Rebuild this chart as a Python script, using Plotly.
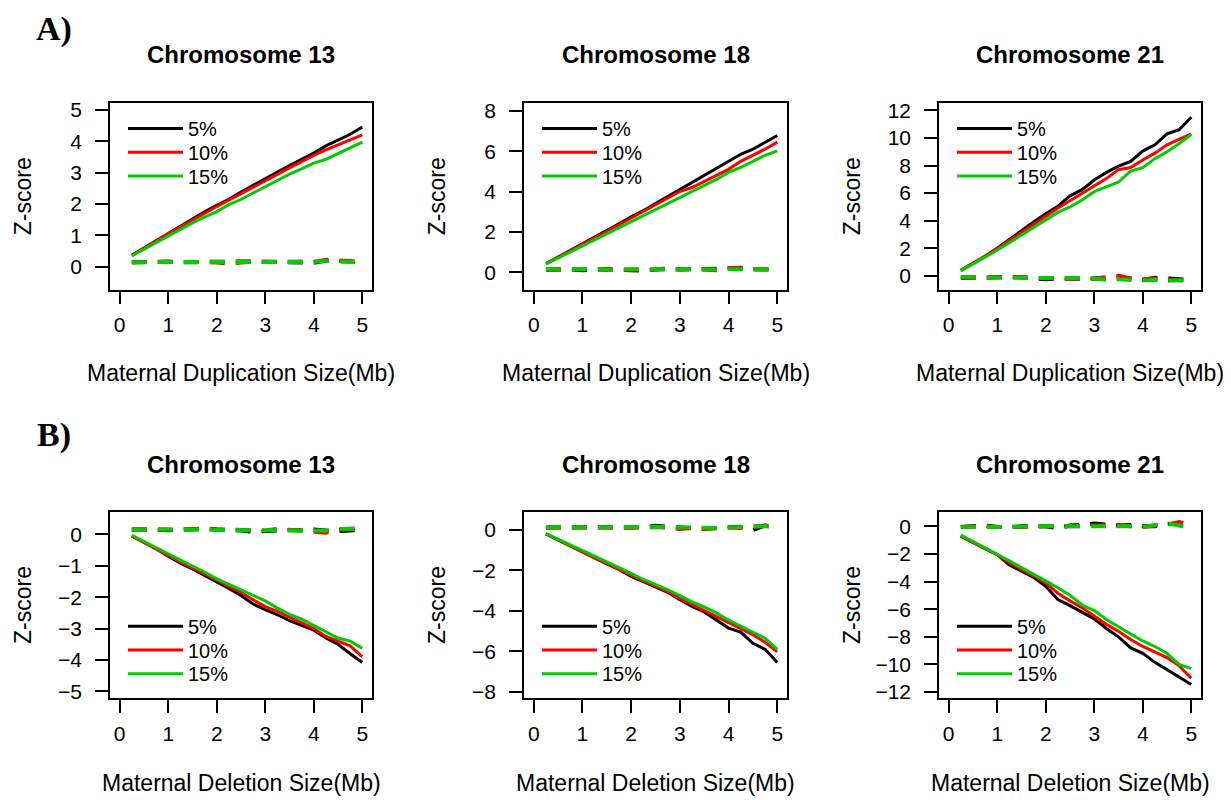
import plotly.graph_objects as go

sizes = [0.25, 0.5, 0.75, 1.0, 1.25, 1.5, 1.75, 2.0, 2.25, 2.5,
         2.75, 3.0, 3.25, 3.5, 3.75, 4.0, 4.25, 4.5, 4.75, 5.0]
fractions = ["5%", "10%", "15%"]
colors = ["#000000", "#FF0000", "#00CD00"]
titles = ["Chromosome 13", "Chromosome 18", "Chromosome 21"]
xlabels = ["Maternal Duplication Size(Mb)", "Maternal Deletion Size(Mb)"]
panel_tags = ["A)", "B)"]

# Duplication - affected chromosome (solid)
dup13 = [
    [0.37, 0.60, 0.85, 1.08, 1.30, 1.52, 1.75, 1.96, 2.15, 2.38, 2.60, 2.80, 3.02, 3.22, 3.42, 3.62, 3.85, 4.03, 4.22, 4.45],
    [0.36, 0.58, 0.82, 1.05, 1.27, 1.50, 1.72, 1.92, 2.12, 2.33, 2.54, 2.74, 2.94, 3.15, 3.35, 3.55, 3.72, 3.88, 4.03, 4.20],
    [0.35, 0.56, 0.78, 0.98, 1.18, 1.40, 1.58, 1.76, 1.98, 2.15, 2.35, 2.55, 2.75, 2.95, 3.12, 3.30, 3.42, 3.60, 3.78, 3.97],
]
dup18 = [
    [0.42, 0.75, 1.05, 1.38, 1.72, 2.08, 2.40, 2.75, 3.05, 3.40, 3.75, 4.10, 4.45, 4.80, 5.15, 5.50, 5.85, 6.10, 6.45, 6.78],
    [0.42, 0.75, 1.08, 1.40, 1.70, 2.02, 2.35, 2.68, 3.00, 3.32, 3.65, 4.00, 4.20, 4.50, 4.80, 5.10, 5.50, 5.80, 6.10, 6.45],
    [0.40, 0.70, 1.00, 1.30, 1.60, 1.90, 2.20, 2.50, 2.80, 3.10, 3.40, 3.70, 4.00, 4.30, 4.60, 4.95, 5.20, 5.50, 5.80, 6.02],
]
dup21 = [
    [0.40, 0.90, 1.40, 2.00, 2.65, 3.30, 3.90, 4.50, 5.05, 5.80, 6.25, 6.95, 7.50, 7.95, 8.30, 9.05, 9.50, 10.30, 10.60, 11.50],
    [0.40, 0.90, 1.40, 1.95, 2.55, 3.15, 3.75, 4.35, 4.90, 5.45, 6.00, 6.50, 7.05, 7.70, 7.85, 8.40, 8.90, 9.50, 9.90, 10.30],
    [0.35, 0.85, 1.30, 1.85, 2.40, 2.95, 3.50, 4.00, 4.60, 5.00, 5.50, 6.10, 6.45, 6.80, 7.60, 7.85, 8.50, 9.00, 9.60, 10.25],
]
# Duplication - control (dashed)
dup13_ctrl = [
    [0.15, 0.16, 0.17, 0.16, 0.15, 0.16, 0.17, 0.15, 0.16, 0.17, 0.17, 0.16, 0.15, 0.15, 0.14, 0.13, 0.20, 0.20, 0.17, 0.15],
    [0.15, 0.16, 0.18, 0.17, 0.16, 0.15, 0.16, 0.14, 0.10, 0.15, 0.17, 0.16, 0.16, 0.15, 0.15, 0.16, 0.23, 0.21, 0.17, 0.15],
    [0.15, 0.15, 0.16, 0.16, 0.17, 0.17, 0.17, 0.16, 0.15, 0.16, 0.18, 0.18, 0.17, 0.17, 0.16, 0.16, 0.19, 0.17, 0.16, 0.15],
]
dup18_ctrl = [
    [0.12, 0.13, 0.14, 0.10, 0.15, 0.16, 0.12, 0.10, 0.08, 0.14, 0.12, 0.14, 0.15, 0.16, 0.14, 0.15, 0.20, 0.15, 0.13, 0.14],
    [0.13, 0.14, 0.12, 0.15, 0.14, 0.12, 0.13, 0.14, 0.12, 0.12, 0.20, 0.12, 0.16, 0.15, 0.10, 0.20, 0.22, 0.14, 0.13, 0.12],
    [0.14, 0.13, 0.13, 0.14, 0.15, 0.15, 0.14, 0.14, 0.13, 0.13, 0.13, 0.14, 0.15, 0.15, 0.14, 0.15, 0.16, 0.15, 0.16, 0.14],
]
dup21_ctrl = [
    [-0.15, -0.12, -0.15, -0.10, -0.10, -0.12, -0.20, -0.25, -0.20, -0.18, -0.20, -0.20, -0.25, -0.15, -0.20, -0.30, -0.15, -0.20, -0.30, -0.30],
    [-0.12, -0.15, -0.15, -0.10, -0.12, -0.10, -0.20, -0.15, -0.20, -0.25, -0.25, -0.20, -0.10, 0.00, -0.20, -0.25, -0.20, -0.35, -0.30, -0.55],
    [-0.10, -0.12, -0.18, -0.15, -0.15, -0.15, -0.15, -0.12, -0.15, -0.15, -0.18, -0.20, -0.30, -0.25, -0.30, -0.35, -0.30, -0.30, -0.35, -0.25],
]
# Deletion - affected chromosome (solid)
del13 = [
    [-0.05, -0.25, -0.46, -0.70, -0.92, -1.10, -1.30, -1.50, -1.72, -1.95, -2.22, -2.40, -2.56, -2.75, -2.90, -3.05, -3.30, -3.50, -3.80, -4.08],
    [-0.05, -0.25, -0.45, -0.67, -0.88, -1.07, -1.25, -1.45, -1.66, -1.85, -2.08, -2.30, -2.45, -2.63, -2.82, -3.00, -3.25, -3.40, -3.55, -3.90],
    [-0.03, -0.22, -0.42, -0.62, -0.82, -1.00, -1.20, -1.42, -1.60, -1.78, -1.95, -2.12, -2.35, -2.55, -2.70, -2.90, -3.10, -3.30, -3.40, -3.63],
]
del18 = [
    [-0.20, -0.50, -0.80, -1.10, -1.40, -1.68, -1.95, -2.30, -2.55, -2.80, -3.08, -3.45, -3.78, -4.05, -4.45, -4.85, -5.05, -5.60, -5.90, -6.55],
    [-0.20, -0.50, -0.80, -1.08, -1.38, -1.65, -1.95, -2.25, -2.52, -2.78, -3.05, -3.38, -3.68, -3.98, -4.30, -4.60, -4.90, -5.18, -5.55, -6.02],
    [-0.18, -0.45, -0.75, -1.00, -1.30, -1.58, -1.85, -2.15, -2.45, -2.70, -2.95, -3.25, -3.55, -3.80, -4.10, -4.45, -4.75, -5.05, -5.35, -5.90],
]
del21 = [
    [-0.72, -1.20, -1.62, -2.05, -2.80, -3.25, -3.70, -4.35, -5.30, -5.75, -6.20, -6.70, -7.40, -8.00, -8.80, -9.20, -9.85, -10.40, -10.90, -11.45],
    [-0.70, -1.15, -1.60, -2.05, -2.65, -3.10, -3.60, -4.10, -4.85, -5.40, -5.90, -6.50, -7.10, -7.60, -8.20, -8.70, -9.10, -9.50, -10.10, -11.00],
    [-0.65, -1.10, -1.55, -2.00, -2.50, -3.00, -3.45, -3.95, -4.45, -5.00, -5.70, -6.10, -6.75, -7.30, -7.80, -8.30, -8.70, -9.20, -10.00, -10.30],
]
# Deletion - control (dashed)
del13_ctrl = [
    [0.15, 0.16, 0.15, 0.13, 0.14, 0.17, 0.18, 0.15, 0.14, 0.12, 0.08, 0.10, 0.15, 0.14, 0.13, 0.15, 0.12, 0.10, 0.12, 0.15],
    [0.15, 0.16, 0.16, 0.15, 0.14, 0.18, 0.19, 0.16, 0.15, 0.13, 0.10, 0.12, 0.17, 0.16, 0.12, 0.08, 0.05, 0.15, 0.18, 0.18],
    [0.16, 0.16, 0.16, 0.14, 0.14, 0.16, 0.17, 0.16, 0.14, 0.13, 0.13, 0.14, 0.15, 0.14, 0.13, 0.12, 0.12, 0.16, 0.19, 0.20],
]
del18_ctrl = [
    [0.12, 0.13, 0.14, 0.12, 0.14, 0.13, 0.12, 0.11, 0.13, 0.20, 0.15, 0.10, 0.08, 0.06, 0.10, 0.12, 0.15, 0.00, 0.22, 0.15],
    [0.13, 0.13, 0.14, 0.15, 0.13, 0.12, 0.10, 0.12, 0.13, 0.14, 0.12, 0.05, 0.10, 0.05, 0.08, 0.12, 0.10, 0.18, 0.20, 0.12],
    [0.13, 0.14, 0.14, 0.14, 0.13, 0.13, 0.12, 0.13, 0.14, 0.15, 0.14, 0.12, 0.10, 0.08, 0.09, 0.12, 0.14, 0.14, 0.18, 0.14],
]
del21_ctrl = [
    [-0.05, -0.02, 0.05, -0.05, -0.08, 0.00, 0.00, 0.00, -0.15, 0.05, 0.10, 0.20, 0.12, 0.05, 0.08, 0.00, 0.00, 0.15, 0.20, 0.10],
    [-0.05, 0.00, 0.02, -0.05, -0.05, -0.10, -0.05, 0.00, 0.00, -0.05, 0.00, 0.05, 0.05, 0.08, 0.00, -0.05, 0.05, 0.10, 0.30, 0.10],
    [-0.05, -0.03, 0.00, -0.05, -0.05, 0.00, -0.02, 0.00, 0.00, 0.00, 0.00, 0.05, 0.00, 0.05, 0.00, -0.05, 0.10, 0.20, 0.05, -0.15],
]

solid = [dup13, dup18, dup21, del13, del18, del21]
dashed = [dup13_ctrl, dup18_ctrl, dup21_ctrl, del13_ctrl, del18_ctrl, del21_ctrl]
y_ranges = [[-0.72, 5.22], [-0.86, 8.40], [-1.0, 12.55],
            [-5.22, 0.72], [-8.32, 0.90], [-12.45, 1.05]]
y_ticks = [[0, 1, 2, 3, 4, 5], [0, 2, 4, 6, 8], [0, 2, 4, 6, 8, 10, 12],
           [0, -1, -2, -3, -4, -5], [0, -2, -4, -6, -8], [0, -2, -4, -6, -8, -10, -12]]

W, H = 1231, 800
OFF = 8  # page body margin: figure origin sits at (8, 8) in the window
col_px = [(110, 372), (524, 787), (939, 1201)]   # window pixel coords
row_px = [(99, 288), (513, 702)]
legend_rows = [[125, 149, 173], [629, 653, 677]]


def px(wx):
    return (wx - OFF) / W


def py(wy):
    return 1 - (wy - OFF) / H


fig = go.Figure()
font_main = "Liberation Sans, Arial, sans-serif"

annotations = []
legend_layouts = {}
for p in range(6):
    r, c = divmod(p, 3)
    x0, x1 = col_px[c]
    y0, y1 = row_px[r]
    xa = "x" if p == 0 else f"x{p+1}"
    ya = "y" if p == 0 else f"y{p+1}"
    for k in range(3):
        fig.add_trace(go.Scatter(
            x=sizes, y=dashed[p][k], mode="lines", xaxis=xa, yaxis=ya,
            line=dict(color=colors[k], width=4, dash="15px,11px"),
            showlegend=False, hoverinfo="skip"))
    for k in range(3):
        idx = p * 3 + k
        lg = "legend" if idx == 0 else f"legend{idx+1}"
        fig.add_trace(go.Scatter(
            x=sizes, y=solid[p][k], mode="lines", xaxis=xa, yaxis=ya,
            line=dict(color=colors[k], width=3), name=fractions[k],
            legend=lg, showlegend=True))
        legend_layouts[lg] = dict(x=px(x0 + 13), y=py(legend_rows[r][k]),
                                  xanchor="left", yanchor="middle",
                                  bgcolor="rgba(0,0,0,0)", borderwidth=0,
                                  font=dict(family=font_main, size=20, color="black"),
                                  itemwidth=55)
    axkw = dict(showline=True, mirror=True, linecolor="black", linewidth=1.5,
                ticks="outside", ticklen=13, tickwidth=1.5, tickcolor="black",
                showgrid=False, zeroline=False,
                tickfont=dict(family=font_main, size=21, color="black"))
    xkey = "xaxis" if p == 0 else f"xaxis{p+1}"
    ykey = "yaxis" if p == 0 else f"yaxis{p+1}"
    fig.update_layout({
        xkey: dict(domain=[px(x0), px(x1)], range=[-0.2, 5.2], ticklabelstandoff=3,
                   tickvals=[0, 1, 2, 3, 4, 5], anchor=ya, **axkw),
        ykey: dict(domain=[py(y1), py(y0)], range=y_ranges[p], ticklabelstandoff=9,
                   tickvals=y_ticks[p], anchor=xa, **axkw),
    })
    cx = (x0 + x1) / 2
    annotations.append(dict(text=f"<b>{titles[c]}</b>", x=px(cx), y=py(50 + 415 * r),
                            xref="paper", yref="paper", showarrow=False,
                            xanchor="center", yanchor="middle",
                            font=dict(family=font_main, size=24, color="black")))
    annotations.append(dict(text=xlabels[r], x=px(cx), y=py(373 + 415 * r),
                            xref="paper", yref="paper", showarrow=False,
                            xanchor="center", yanchor="middle",
                            font=dict(family=font_main, size=23, color="black")))
    annotations.append(dict(text="Z-score", x=px(x0 - 87), y=py((y0 + y1) / 2),
                            xref="paper", yref="paper", showarrow=False, textangle=-90,
                            xanchor="center", yanchor="middle",
                            font=dict(family=font_main, size=23, color="black")))

fig.update_layout(legend_layouts)

tag_y = [24, 435]
for r in range(2):
    annotations.append(dict(text=f"<b>{panel_tags[r]}</b>", x=px(54), y=py(tag_y[r]),
                            xref="paper", yref="paper", showarrow=False,
                            xanchor="center", yanchor="middle",
                            font=dict(family="Liberation Serif, Times New Roman, serif", size=34, color="black")))

fig.update_layout(width=W, height=H, margin=dict(l=0, r=0, t=0, b=0),
                  paper_bgcolor="white", plot_bgcolor="white",
                  annotations=annotations, showlegend=True)

fig.write_html("out.html")
